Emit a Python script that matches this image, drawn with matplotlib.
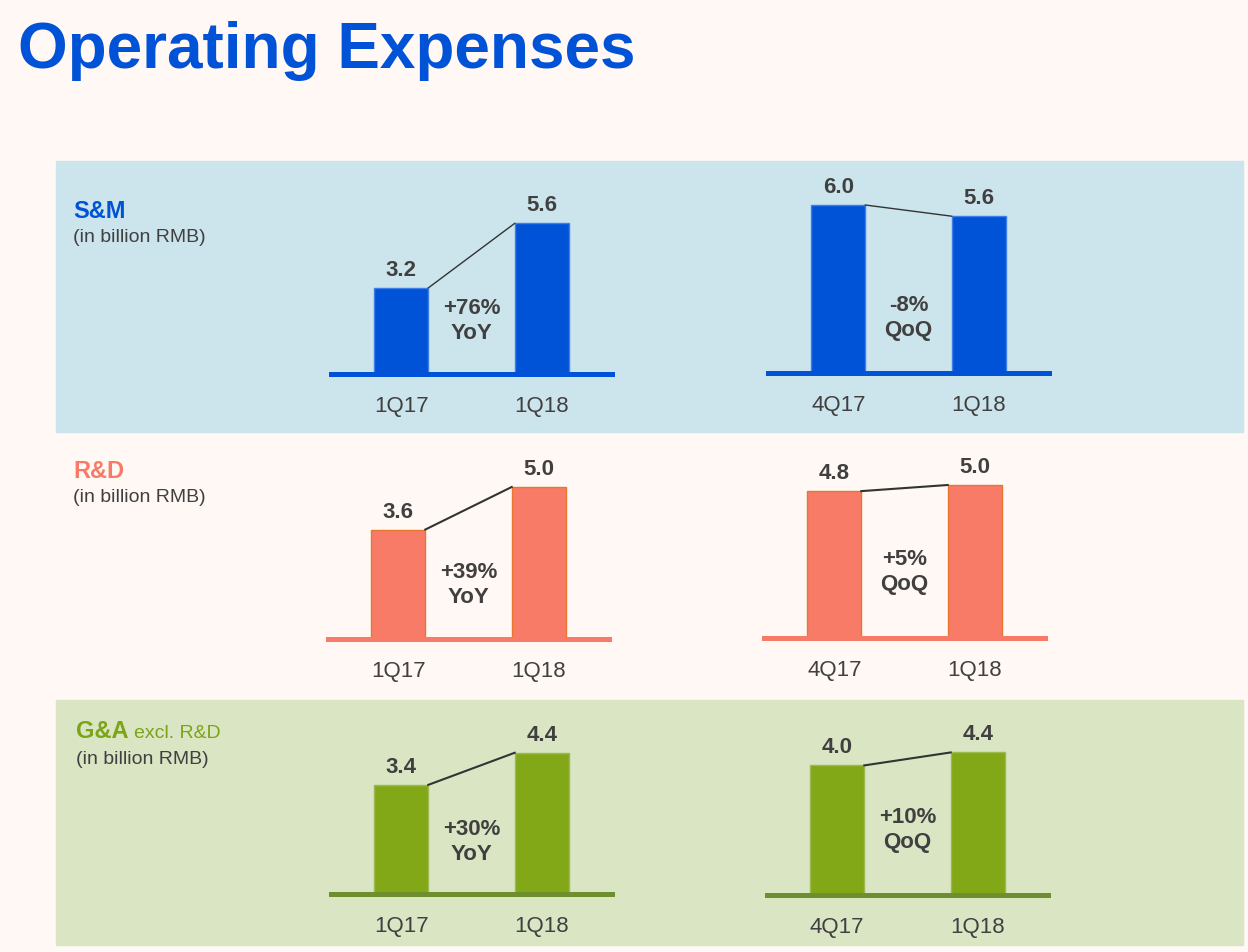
import matplotlib.pyplot as plt
from matplotlib.patches import Rectangle

plt.rcParams['font.family'] = ['Liberation Sans', 'DejaVu Sans']

# data (billion RMB)
sections = ["S&M", "R&D", "G&A"]
yoy_quarters = ["1Q17", "1Q18"]
qoq_quarters = ["4Q17", "1Q18"]
yoy_values = [[3.2, 5.6], [3.6, 5.0], [3.4, 4.4]]
qoq_values = [[6.0, 5.6], [4.8, 5.0], [4.0, 4.4]]
yoy_change = ["+76%", "+39%", "+30%"]
qoq_change = ["-8%", "+5%", "+10%"]

W, H = 1248, 952
BG = "#FFF8F5"
DARK = "#404040"

# style per section: bar colour, edge, baseline, label colour, band colour
styles = [
    dict(bar="#0052D6", edge="#3D7FE6", base="#0052D6", label="#0052D6", band="#CCE4EC", lw=1.0),
    dict(bar="#F87B68", edge="#E8772E", base="#F87B68", label="#F87B68", band=None, lw=1.5),
    dict(bar="#82A818", edge="#9DBA52", base="#6F8F2E", label="#7BA416", band="#DAE5C4", lw=1.5),
]

# layout in pixels
baselines = [(374, 373), (639, 638), (894, 895)]
lefts = [(331, 768), (328, 764), (331, 767)]
ax_w = 281
ax_h = 220
px_per_unit = [(26.9, 28.0), (30.4, 30.6), (32.1, 32.4)]
change_y = [(321, 318), (585, 572), (842, 830)]
label_y = [211, 471, 732]
bands = [(161, 432), None, (700, 945)]


def fx(x):
    return x / W


def fy(y):
    return 1 - y / H


fig = plt.figure(figsize=(W / 100, H / 100), dpi=100)
fig.patch.set_facecolor(BG)

fig.text(fx(18), fy(68), "Operating Expenses", fontsize=46, fontweight="bold",
         color="#0052D6", ha="left", va="baseline")

for i, sec in enumerate(sections):
    st = styles[i]
    if bands[i] is not None:
        top, bot = bands[i]
        fig.patches.append(Rectangle((fx(56), fy(bot)), fx(1243 - 56), (bot - top) / H,
                                     transform=fig.transFigure, color=st["band"], zorder=-1))

    lx = 73 if i < 2 else 76
    fig.text(fx(lx), fy(label_y[i]), sec, fontsize=17, fontweight="bold",
             color=st["label"], va="center")
    if sec == "G&A":
        fig.text(fx(lx + 58), fy(label_y[i] + 1), "excl. R&D", fontsize=14,
                 color=st["label"], va="center")
    fig.text(fx(lx), fy(label_y[i] + 27), "(in billion RMB)", fontsize=14,
             color=DARK, va="center")

    panels = [(yoy_quarters, yoy_values[i], yoy_change[i], "YoY"),
              (qoq_quarters, qoq_values[i], qoq_change[i], "QoQ")]
    for j, (cats, vals, chg, kind) in enumerate(panels):
        base = baselines[i][j]
        ax = fig.add_axes([fx(lefts[i][j]), fy(base), ax_w / W, ax_h / H])
        ax.set_facecolor("none")
        ax.set_xlim(-0.5, 1.5)
        ax.set_ylim(0, ax_h / px_per_unit[i][j])
        for s in ax.spines.values():
            s.set_visible(False)
        ax.set_yticks([])
        ax.set_xticks([0, 1])
        ax.set_xticklabels(cats, fontsize=16, color=DARK)
        ax.tick_params(axis="x", length=0, pad=16)

        bw = 0.385
        ax.bar([0, 1], vals, width=bw, color=st["bar"], edgecolor=st["edge"],
               linewidth=1, zorder=2, clip_on=False)
        ax.axhline(0, color=st["base"], lw=3.6, zorder=3, clip_on=False)
        ax.plot([bw / 2, 1 - bw / 2], vals, color="#333333", lw=st["lw"], zorder=4)
        for k, v in enumerate(vals):
            ax.annotate(f"{v:.1f}", (k, v), xytext=(0, 5), textcoords="offset points",
                        ha="center", va="bottom", fontsize=16, fontweight="bold",
                        color=DARK)

        cy = change_y[i][j]
        ax.text(0.5, (base - cy) / px_per_unit[i][j], f"{chg}\n{kind}",
                ha="center", va="center", fontsize=16, fontweight="bold",
                color=DARK, linespacing=1.2)

fig.savefig("out.png", dpi=100, facecolor=BG)
